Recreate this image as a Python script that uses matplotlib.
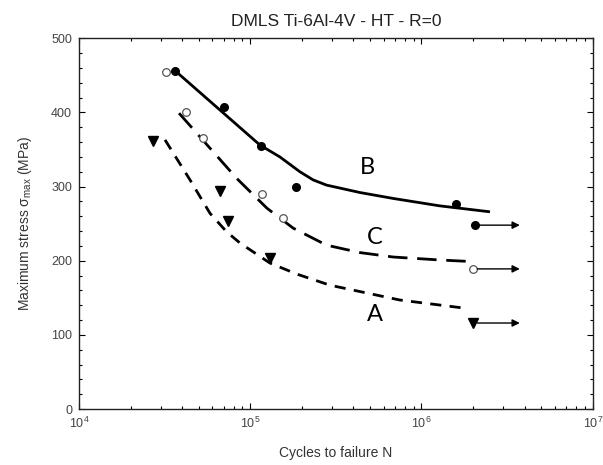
import matplotlib
matplotlib.use('Agg')
import matplotlib.pyplot as plt
from matplotlib.ticker import LogLocator, LogFormatterMathtext, MultipleLocator
import numpy as np

plt.rcParams['font.family'] = ['Liberation Sans', 'DejaVu Sans']

# test data
b_n = [3.66e4, 7.0e4, 1.16e5, 1.84e5, 1.58e6]
b_s = [456, 407, 355, 300, 277]
c_n = [3.2e4, 4.2e4, 5.3e4, 1.17e5, 1.55e5]
c_s = [454, 400, 365, 290, 257]
a_n = [2.72e4, 6.65e4, 7.4e4, 1.30e5]
a_s = [362, 294, 253, 204]

# run-outs (no failure)
runout_n = [2.05e6, 2.0e6, 2.0e6]
runout_s = [248, 189, 116]
runout_end = 3.75e6

# fitted curves
b_fit_n = [3.78e4, 1.14e5, 1.49e5, 1.95e5, 2.33e5, 2.79e5, 4.37e5, 6.84e5, 1.28e6, 2.51e6]
b_fit_s = [453, 356, 340, 320, 309, 302, 292, 284, 274, 266]
c_fit_n = [3.84e4, 8.34e4, 1.25e5, 1.78e5, 2.79e5, 4.37e5, 6.84e5, 1.28e6, 1.92e6]
c_fit_s = [399, 311, 271, 244, 221, 211, 205, 201, 199]
a_fit_n = [3.18e4, 4.45e4, 5.82e4, 7.28e4, 8.7e4, 1.30e5, 1.87e5, 2.92e5, 7.48e5, 1.79e6]
a_fit_s = [363, 309, 264, 239, 224, 197, 182, 167, 147, 136]

curve_labels = ['B', 'C', 'A']
label_n = [4.86e5, 5.35e5, 5.35e5]
label_s = [326, 232, 127]

fig = plt.figure(figsize=(6.03, 4.65), dpi=100)
ax = fig.add_axes([0.131, 0.1204, 0.852, 0.7972])

ax.plot(b_fit_n, b_fit_s, color='black', lw=2.0, solid_capstyle='butt')
ax.plot(c_fit_n, c_fit_s, color='black', lw=2.0, dashes=(7, 3.5))
ax.plot(a_fit_n, a_fit_s, color='black', lw=2.0, dashes=(4, 3))

ax.plot(b_n, b_s, 'o', color='black', ms=5.5)
ax.plot(c_n, c_s, 'o', mfc='white', mec='#555555', mew=0.9, ms=5.5)
ax.plot(a_n, a_s, 'v', color='black', ms=7)

ax.plot(runout_n[0], runout_s[0], 'o', color='black', ms=5.5)
ax.plot(runout_n[1], runout_s[1], 'o', mfc='white', mec='#555555', mew=0.9, ms=5.5)
ax.plot(runout_n[2], runout_s[2], 'v', color='black', ms=7)
for n, s in zip(runout_n, runout_s):
    ax.annotate('', xy=(runout_end, s), xytext=(n * 1.06, s),
                arrowprops=dict(arrowstyle='-|>', color='black', lw=1.0,
                                mutation_scale=11, shrinkA=0, shrinkB=0))

for t, n, s in zip(curve_labels, label_n, label_s):
    ax.text(n, s, t, fontsize=17, family=['Lato', 'DejaVu Sans'],
            ha='center', va='center', color='black')

ax.set_xscale('log')
ax.set_xlim(1e4, 1e7)
ax.set_ylim(0, 500)
ax.xaxis.set_major_locator(LogLocator(base=10, numticks=10))
ax.xaxis.set_major_formatter(LogFormatterMathtext())
ax.xaxis.set_minor_locator(LogLocator(base=10, subs=np.arange(2, 10), numticks=20))
ax.yaxis.set_major_locator(MultipleLocator(100))
ax.yaxis.set_minor_locator(MultipleLocator(20))
ax.tick_params(which='both', direction='in', top=True, right=True,
               labelsize=9, labelcolor='#444444', width=0.8)
ax.tick_params(which='major', length=4, pad=5)
ax.tick_params(which='minor', length=2.5)
for sp in ax.spines.values():
    sp.set_linewidth(1.0)
    sp.set_color('#222222')

ax.set_title('DMLS Ti-6Al-4V - HT - R=0', fontsize=12.5, color='#222222', pad=9)
ax.set_xlabel('Cycles to failure N', fontsize=10, color='#333333', labelpad=11)
ax.set_ylabel('Maximum stress σ$_{\\mathregular{max}}$ (MPa)', fontsize=10,
              color='#333333', labelpad=12)

fig.savefig('out.png', dpi=100)
